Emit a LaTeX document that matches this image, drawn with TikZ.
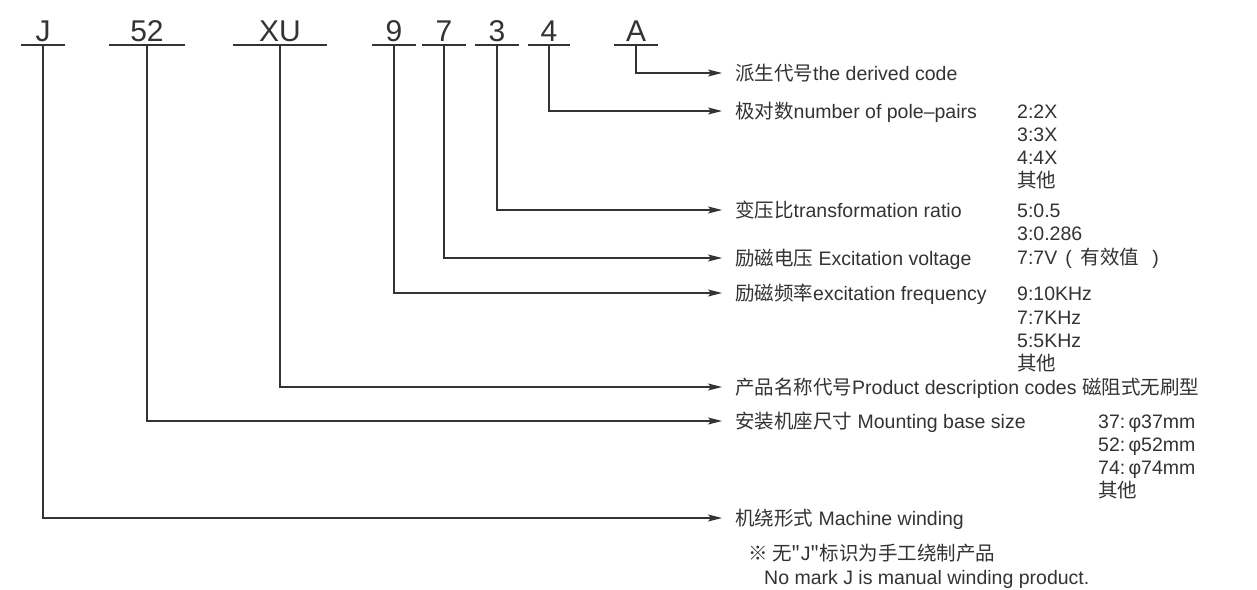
\documentclass[tikz,border=0pt]{standalone}
\usepackage{fontspec}
\setmainfont{Liberation Sans}
\newfontfamily\cjk{Noto Sans CJK SC}
\usetikzlibrary{arrows.meta}
\definecolor{ink}{HTML}{333333}
\tikzset{
  code/.style={anchor=south, inner xsep=0pt, inner ysep=3pt, text=ink,
    font=\fontsize{30}{34}\selectfont, text height=22pt, text depth=0pt},
  uline/.style={draw=ink, line width=1.4pt},
  conn/.style={draw=ink, line width=1.3pt, -{Stealth[length=14pt,width=7pt,inset=3pt]}},
  lbl/.style={anchor=west, inner xsep=13pt, inner ysep=0pt, text=ink,
    font=\fontsize{19.5}{23}\selectfont, text height=14pt, text depth=0pt},
  val/.style={anchor=west, inner sep=0pt, text=ink, align=left,
    font=\fontsize{19.5}{23.2}\selectfont, text height=14pt, text depth=0pt},
}
\begin{document}
\begin{tikzpicture}[x=1pt,y=-1pt]
\useasboundingbox[fill=white] (0,0) rectangle (1257,589);
% code letters (south anchor = underline)
\node[code, minimum width=43pt] (cJ)  at (43,45)  {J};
\node[code, minimum width=76pt] (c52) at (147,45) {52};
\node[code, minimum width=94pt] (cXU) at (280,45) {XU};
\node[code, minimum width=43pt] (c9)  at (394,45) {9};
\node[code, minimum width=43pt] (c7)  at (444,45) {7};
\node[code, minimum width=43pt] (c3)  at (497,45) {3};
\node[code, minimum width=42pt] (c4)  at (549,45) {4};
\node[code, minimum width=43pt] (cA)  at (636,45) {A};
\foreach \n in {cJ,c52,cXU,c9,c7,c3,c4,cA}
  \draw[uline] (\n.south west) -- (\n.south east);
% labels
\node[lbl] (lA)  at (722,73)  {{\cjk 派生代号}the derived code};
\node[lbl] (l4)  at (722,111) {{\cjk 极对数}number of pole–pairs};
\node[lbl] (l3)  at (722,210) {{\cjk 变压比}transformation ratio};
\node[lbl] (l7)  at (722,258) {{\cjk 励磁电压} Excitation voltage};
\node[lbl] (l9)  at (722,293) {{\cjk 励磁频率}excitation frequency};
\node[lbl] (lXU) at (722,387) {{\cjk 产品名称代号}Product description codes {\cjk 磁阻式无刷型}};
\node[lbl] (l52) at (722,421) {{\cjk 安装机座尺寸} Mounting base size};
\node[lbl] (lJ)  at (722,518) {{\cjk 机绕形式} Machine winding};
% values
\node[val] (v4a) at (1017,111) {2:2X};
\node[val] (v4b) at (1017,134) {3:3X};
\node[val] (v4c) at (1017,157) {4:4X};
\node[val] (v4d) at (1017,180) {\cjk 其他};
\node[val] (v3a) at (1017,210) {5:0.5};
\node[val] (v3b) at (1017,233) {3:0.286};
\node[val] (v7a) at (1017,257) {7:7V\hspace{8pt}(\hspace{9pt}{\cjk 有效值}\hspace{13pt})};
\node[val] (v9a) at (1017,293) {9:10KHz};
\node[val] (v9b) at (1017,317) {7:7KHz};
\node[val] (v9c) at (1017,340) {5:5KHz};
\node[val] (v9d) at (1017,363) {\cjk 其他};
\node[val] (v5a) at (1098,421) {37:\,φ37mm};
\node[val] (v5b) at (1098,444) {52:\,φ52mm};
\node[val] (v5c) at (1098,467) {74:\,φ74mm};
\node[val] (v5d) at (1098,490) {\cjk 其他};
% note
\node[val] (n1) at (748,553) {{\cjk ※ 无"}J{\cjk "标识为手工绕制产品}};
\node[val] (n2) at (764,577) {No mark J is manual winding product.};
% connectors
\draw[conn] (cA.south)  |- (lA.west);
\draw[conn] (c4.south)  |- (l4.west);
\draw[conn] (c3.south)  |- (l3.west);
\draw[conn] (c7.south)  |- (l7.west);
\draw[conn] (c9.south)  |- (l9.west);
\draw[conn] (cXU.south) |- (lXU.west);
\draw[conn] (c52.south) |- (l52.west);
\draw[conn] (cJ.south)  |- (lJ.west);
\end{tikzpicture}
\end{document}
